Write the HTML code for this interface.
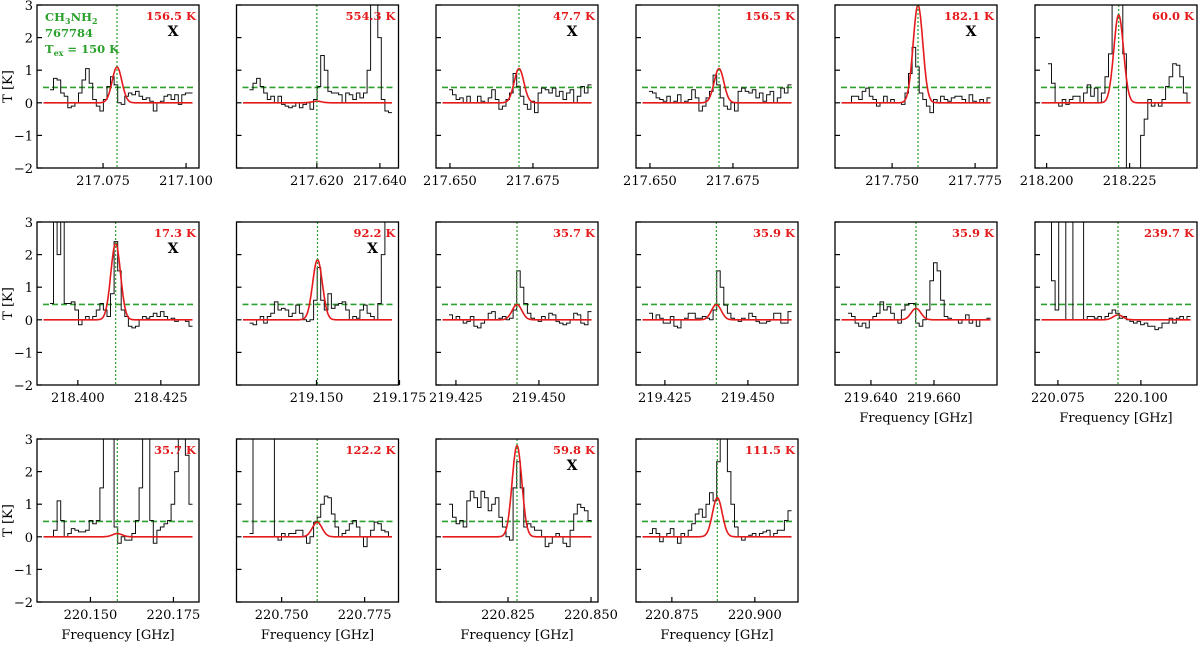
<!DOCTYPE html>
<html><head><meta charset="utf-8"><style>
body{margin:0;background:#fff;width:1200px;height:642px;overflow:hidden}
svg text{font-family:"DejaVu Serif","Liberation Serif",serif}
</style></head><body>
<svg id="fig" width="1200" height="642" xmlns="http://www.w3.org/2000/svg"></svg>
<script>
const freqMin=[217.0551,217.5945,217.6458,217.6458,217.7328,218.1965,218.3877,219.1259,219.419,219.4163,219.6286,220.0681,220.1339,220.7364,220.8033,220.8642];
const freqSpan=[0.0488,0.0514,0.0488,0.0488,0.0488,0.0488,0.0488,0.0488,0.0488,0.0488,0.0514,0.0488,0.0488,0.0488,0.0488,0.0488];
const tickLabels=[["217.075","217.100"],["217.620","217.640"],["217.650","217.675"],["217.650","217.675"],["217.750","217.775"],["218.200","218.225"],["218.400","218.425"],["219.150","219.175"],["219.425","219.450"],["219.425","219.450"],["219.640","219.660"],["220.075","220.100"],["220.150","220.175"],["220.750","220.775"],["220.825","220.850"],["220.875","220.900"]];
const lineFreq=[217.0792,217.620,217.6708,217.6708,217.7578,218.2217,218.4114,219.1503,219.4434,219.4405,219.6543,220.0931,220.1581,220.7607,220.8277,220.8887];
const modelAmp=[1.1,0.05,1.05,1.05,3.0,2.7,2.35,1.85,0.47,0.47,0.35,0.15,0.1,0.45,2.8,1.2];
const tempLabels=["156.5 K","554.3 K","47.7 K","156.5 K","182.1 K","60.0 K","17.3 K","92.2 K","35.7 K","35.9 K","35.9 K","239.7 K","35.7 K","122.2 K","59.8 K","111.5 K"];
const blended=[1,0,1,0,1,0,1,1,0,0,0,0,0,0,1,0];
const yTicks=[3,2,1,0,-1,-2];
const threshold=0.47;
const obs=[
[0.4,0.75,0.7,0.3,0.2,-0.15,-0.1,0.0,0.3,0.7,1.05,0.6,0.1,-0.1,-0.25,0.1,0.5,0.8,0.55,0.0,-0.05,0.2,0.3,0.25,0.35,0.2,0.1,0.15,0.05,-0.25,0.0,0.05,0.2,0.25,0.1,0.25,-0.05,0.25,0.3,0.3],
[0.4,0.6,0.75,0.5,0.3,0.1,0.2,0.0,0.2,-0.05,-0.1,-0.15,-0.1,0.0,-0.15,-0.05,0.0,-0.2,0.1,0.5,1.45,1.0,0.35,0.3,0.3,0.25,0.0,0.3,0.25,0.1,0.3,0.15,0.3,1.0,3.5,3.5,2.0,0.1,-0.25,-0.3],
[0.4,0.25,0.1,0.15,0.0,0.2,0.0,0.0,0.2,0.05,0.0,0.15,0.4,0.1,-0.2,-0.1,0.1,0.3,0.9,0.5,0.2,-0.05,-0.2,0.05,-0.3,0.3,0.45,0.4,0.3,0.45,0.2,0.35,0.1,0.3,0.4,0.0,0.2,0.5,0.3,0.55],
[0.35,0.3,0.15,0.1,0.05,0.2,0.0,0.05,0.25,0.0,0.05,0.1,0.4,0.15,-0.25,-0.1,0.15,0.35,0.85,0.55,0.15,-0.1,-0.2,0.0,-0.25,0.35,0.45,0.35,0.3,0.4,0.15,0.3,0.05,0.25,0.35,0.0,0.15,0.45,0.3,0.55],
[0.0,0.2,0.2,0.1,0.35,0.45,0.2,0.1,-0.1,0.0,0.2,0.0,0.1,0.0,0.0,-0.05,0.3,0.9,1.7,1.1,0.3,0.1,-0.1,-0.3,0.1,0.0,0.2,0.1,0.05,0.15,0.2,0.2,0.1,0.0,0.25,0.05,0.0,0.1,0.0,0.15],
[1.2,0.6,0.0,-0.1,0.1,-0.05,0.1,0.2,0.2,0.0,0.3,0.55,0.2,0.45,0.0,0.3,0.8,1.5,3.5,3.5,3.5,1.5,-3.0,-2.5,-2.5,-2.0,-1.0,-0.5,0.1,-0.1,0.0,-0.1,0.1,0.5,0.8,1.2,1.15,0.8,0.3,0.0],
[0.5,3.5,2.0,3.5,0.5,0.5,0.55,0.3,-0.15,0.0,0.1,0.0,0.1,0.3,0.5,0.3,0.1,0.8,2.4,1.5,0.3,0.1,-0.2,-0.25,-0.2,0.0,0.1,0.05,0.1,0.2,0.1,0.25,0.1,0.0,0.05,-0.05,0.0,0.0,-0.05,-0.2],
[-0.1,-0.15,0.0,0.1,-0.1,0.1,0.2,0.55,0.3,0.35,0.3,0.1,0.2,0.45,0.2,0.0,-0.05,0.0,0.6,1.6,0.6,0.3,0.8,0.35,0.45,0.5,0.55,0.3,0.0,0.1,0.05,0.3,0.45,0.2,0.1,0.0,0.5,2.0,3.5,3.5],
[0.15,0.0,0.1,0.0,-0.1,-0.05,0.1,-0.2,-0.25,-0.1,0.0,0.2,0.25,0.0,0.05,0.1,0.0,0.05,0.3,1.5,1.0,0.5,0.2,0.05,0.0,-0.05,0.1,0.0,0.2,0.15,-0.05,-0.1,-0.15,-0.1,0.0,0.2,0.15,-0.1,-0.15,0.25],
[0.2,0.0,0.15,0.05,-0.1,-0.1,0.1,-0.2,-0.25,0.0,0.05,0.2,0.2,0.05,0.05,0.1,0.05,0.0,0.3,1.5,1.0,0.45,0.2,0.05,0.0,-0.05,0.05,0.0,0.2,0.1,-0.05,-0.1,-0.1,-0.05,0.0,0.2,0.2,-0.1,-0.1,0.25],
[0.2,0.1,-0.1,-0.2,-0.1,-0.25,0.0,0.1,0.2,0.55,0.3,0.4,0.2,0.0,-0.1,0.3,0.45,0.5,0.5,-0.1,-0.2,0.0,0.3,1.2,1.75,1.5,0.6,0.1,0.05,0.0,0.0,-0.1,0.0,0.15,-0.1,0.0,-0.2,0.0,0.0,0.05],
[3.5,1.2,0.3,3.5,3.5,0.0,0.0,3.5,3.5,3.5,0.0,0.1,0.1,0.05,0.1,0.0,0.1,0.2,0.3,0.2,0.05,0.1,0.0,-0.05,-0.1,-0.05,-0.15,-0.1,-0.2,-0.2,-0.3,-0.25,-0.1,-0.1,0.05,-0.1,0.05,0.1,0.0,0.1],
[0.0,0.2,1.1,0.5,0.0,0.1,0.25,0.2,0.15,0.15,0.2,0.5,0.4,0.5,1.5,3.5,3.5,3.5,0.3,-0.2,0.0,-0.1,-0.1,0.1,0.5,1.5,3.5,3.5,0.5,-0.2,0.2,0.3,0.4,0.5,1.0,2.0,3.5,3.5,2.5,1.0],
[0.1,3.5,3.5,3.5,3.5,3.5,3.5,0.0,-0.1,0.1,0.0,0.1,0.1,0.2,0.2,0.0,-0.2,0.0,0.45,0.6,1.0,1.25,1.2,0.7,0.3,0.0,0.1,0.2,0.4,0.5,0.3,0.0,-0.3,0.0,0.2,0.45,0.4,0.2,0.15,0.0],
[1.0,0.6,0.4,0.5,0.3,1.1,1.4,1.2,0.9,1.4,1.2,0.8,1.0,1.2,0.6,0.3,0.0,-0.1,1.5,2.3,1.5,0.3,0.4,0.3,0.2,0.2,0.0,-0.3,-0.2,0.0,0.1,0.0,-0.2,-0.3,0.2,0.7,1.0,0.9,0.8,0.5],
[0.1,0.25,0.1,-0.15,0.0,0.1,0.25,0.0,-0.2,0.1,0.0,0.2,0.4,0.7,0.85,0.6,1.0,1.35,1.1,2.3,3.0,3.1,2.0,1.0,0.3,0.0,-0.1,0.0,0.05,0.1,0.0,0.1,0.15,0.2,0.0,0.1,0.2,0.2,0.5,0.8]
];
const NS='http://www.w3.org/2000/svg';
const fig=document.getElementById('fig');
function mk(tag,attrs,parent,txt){const e=document.createElementNS(NS,tag);for(const k in attrs)e.setAttribute(k,attrs[k]);if(txt!==undefined)e.textContent=txt;(parent||fig).appendChild(e);return e;}
const colLeft=[37,236.5,436,636,835,1035],rowTop=[5,222,439],W=162,H=163;
const defs=mk('defs',{});
for(let p=0;p<16;p++){
  const r=Math.floor(p/6),c=p%6,L=colLeft[c],T=rowTop[r];
  const g=mk('g',{});
  
  
  const cp=mk('clipPath',{id:'cp'+p},defs);mk('rect',{x:L,y:T,width:W,height:H},cp);
  const xs=f=>L+(f-freqMin[p])/freqSpan[p]*W;
  const ys=v=>T+(3-v)/5*H;
  const inner=mk('g',{'clip-path':'url(#cp'+p+')'},g);
  const th=mk('line',{x1:L+6,x2:L+W-6,y1:ys(threshold),y2:ys(threshold),stroke:'#2ca02c','stroke-width':1.6,'stroke-dasharray':'6,3'},inner);
  
  
  const n=obs[p].length,f0=freqMin[p]+0.08*freqSpan[p],f1=freqMin[p]+0.96*freqSpan[p],df=(f1-f0)/n;
  let d='';
  for(let i=0;i<n;i++){const xa=xs(f0+i*df),xb=xs(f0+(i+1)*df),y=ys(obs[p][i]);d+=(i?'L':'M')+xa.toFixed(1)+','+y.toFixed(1)+'L'+xb.toFixed(1)+','+y.toFixed(1);}
  const ob=mk('path',{d:d,fill:'none',stroke:'#111','stroke-width':1},inner);
  
  
  let md='';const sig=0.03*freqSpan[p];
  for(let i=0;i<=200;i++){const f=freqMin[p]+freqSpan[p]*(0.04+0.92*i/200);const v=modelAmp[p]*Math.exp(-0.5*Math.pow((f-lineFreq[p])/sig,2));md+=(i?'L':'M')+xs(f).toFixed(1)+','+ys(v).toFixed(1);}
  const mo=mk('path',{d:md,fill:'none',stroke:'#e41a1c','stroke-width':1.6},inner);
  
  
  const vl=mk('line',{x1:xs(lineFreq[p]),x2:xs(lineFreq[p]),y1:T,y2:T+H,stroke:'#2ca02c','stroke-width':1.2,'stroke-dasharray':'2,2'},inner);
  
  
  const fr=mk('rect',{x:L,y:T,width:W,height:H,fill:'none',stroke:'#000','stroke-width':1.3},g);
  
  
  yTicks.forEach(t=>{mk('line',{x1:L,x2:L+5,y1:ys(t),y2:ys(t),stroke:'#000','stroke-width':1.2},g);
    if(c===0){const tl=mk('text',{x:L-4,y:ys(t)+5,'text-anchor':'end','font-size':13},g,t<0?'\u2212'+(-t):String(t));
      
      }});
  tickLabels[p].forEach(s=>{const x=xs(parseFloat(s));if(x<L-1||x>L+W+1)return;mk('line',{x1:x,x2:x,y1:T+H,y2:T+H-5,stroke:'#000','stroke-width':1.2},g);
    const tl=mk('text',{x:x,y:T+H+17,'text-anchor':'middle','font-size':13},g,s);
    
    });
  const tt=mk('text',{x:L+W-3,y:T+15,'text-anchor':'end','font-size':11.5,'font-weight':'bold',fill:'#e41a1c'},g,tempLabels[p]);
  
  
  if(blended[p]){const bx=mk('text',{x:L+W-26,y:T+31,'text-anchor':'middle','font-size':14,'font-weight':'bold'},g,'X');
    
    }
  if(c===0){const yl=mk('text',{x:0,y:0,transform:'translate('+(L-25)+','+(T+H/2)+') rotate(-90)','text-anchor':'middle','font-size':13},g,'T [K]');
    
    }
  if(r===2||p===10||p===11){const xl=mk('text',{x:L+W/2,y:T+H+37,'text-anchor':'middle','font-size':13},g,'Frequency [GHz]');
    
    }
}
const leg=mk('g',{'font-size':11.5,'font-weight':'bold',fill:'#2ca02c'});


const t1=mk('text',{x:45,y:21},leg);mk('tspan',{},t1,'CH');mk('tspan',{'font-size':8,dy:3},t1,'3');mk('tspan',{dy:-3},t1,'NH');mk('tspan',{'font-size':8,dy:3},t1,'2');
mk('text',{x:45,y:37},leg,'767784');
const t3=mk('text',{x:45,y:53},leg);mk('tspan',{},t3,'T');mk('tspan',{'font-size':8,dy:3},t3,'ex');mk('tspan',{dy:-3},t3,' = 150 K');
</script>
</body></html>
